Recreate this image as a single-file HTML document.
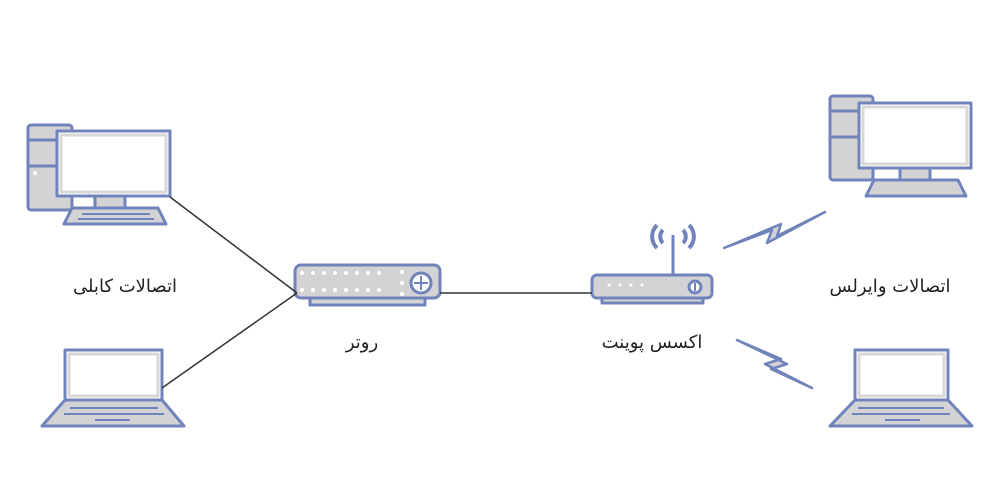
<!DOCTYPE html>
<html><head><meta charset="utf-8"><style>
body{margin:0;background:#fff;width:1000px;height:500px;overflow:hidden}
svg{display:block}
text{font-family:"DejaVu Sans","Liberation Sans",sans-serif;font-size:18px;fill:#222}
</style></head><body>
<svg width="1000" height="500" viewBox="0 0 1000 500">
<g stroke="#7083bb" stroke-width="3" stroke-linejoin="round" fill="#d3d3d6">
<!-- left desktop -->
<rect x="28" y="125" width="44" height="85" rx="3"/>
<line x1="28" y1="140" x2="72" y2="140"/><line x1="28" y1="166" x2="72" y2="166"/>
<rect x="95" y="195" width="30" height="13"/>
<path d="M72 208 H158 L166 224 H64 Z"/>
<rect x="57" y="131" width="113" height="65" fill="#fff"/>
<rect x="61" y="135" width="105" height="57" fill="none" stroke="#d8d8d8" stroke-width="3"/>
<!-- right desktop -->
<rect x="830" y="96" width="43" height="84" rx="3"/>
<line x1="830" y1="111" x2="873" y2="111"/><line x1="830" y1="137" x2="873" y2="137"/>
<rect x="900" y="167" width="30" height="13"/>
<path d="M874 180 H958 L966 196 H866 Z"/>
<rect x="859" y="103" width="112" height="65" fill="#fff"/>
<rect x="863" y="107" width="104" height="57" fill="none" stroke="#d8d8d8" stroke-width="3"/>
<!-- left laptop -->
<rect x="65" y="350" width="97" height="50" fill="#fff"/>
<rect x="69" y="354" width="89" height="42" fill="none" stroke="#d8d8d8" stroke-width="3"/>
<path d="M65 400 H162 L184 426 H42 Z"/>
<!-- right laptop -->
<rect x="855" y="350" width="93" height="50" fill="#fff"/>
<rect x="859" y="354" width="85" height="42" fill="none" stroke="#d8d8d8" stroke-width="3"/>
<path d="M855 400 H948 L972 426 H830 Z"/>
<!-- router -->
<rect x="310" y="297" width="115" height="8"/>
<rect x="295" y="265" width="145" height="33" rx="6"/>
<circle cx="421" cy="283" r="10" fill="#fff"/>
<!-- AP -->
<line x1="673" y1="235" x2="673" y2="276"/>
<rect x="602" y="297" width="101" height="6"/>
<rect x="592" y="275" width="120" height="23" rx="5"/>
<circle cx="695" cy="287" r="6" fill="#fff"/>
<!-- lightning -->
<path d="M724 248 L772 230 L767 243 L825 212 L777 236 L781 224 Z" stroke-width="2.5"/>
<path d="M737 340 L781 359 L765 364 L812 388 L771 369 L787 364 Z" stroke-width="2.5"/>
</g>
<g fill="none" stroke="#7083bb" stroke-width="4">
<path d="M663 230 a9 9 0 0 0 0 13"/><path d="M657 225 a16 16 0 0 0 0 23"/>
<path d="M683 230 a9 9 0 0 1 0 13"/><path d="M689 225 a16 16 0 0 1 0 23"/>
</g>
<g fill="#fff">
<circle cx="35" cy="173" r="2"/>
<circle cx="302" cy="273" r="2"/><circle cx="313" cy="273" r="2"/><circle cx="324" cy="273" r="2"/><circle cx="335" cy="273" r="2"/><circle cx="346" cy="273" r="2"/><circle cx="357" cy="273" r="2"/><circle cx="368" cy="273" r="2"/><circle cx="379" cy="273" r="2"/>
<circle cx="302" cy="290" r="2"/><circle cx="313" cy="290" r="2"/><circle cx="324" cy="290" r="2"/><circle cx="335" cy="290" r="2"/><circle cx="346" cy="290" r="2"/><circle cx="357" cy="290" r="2"/><circle cx="368" cy="290" r="2"/><circle cx="379" cy="290" r="2"/>
<circle cx="402" cy="272" r="2"/><circle cx="402" cy="283" r="2"/><circle cx="402" cy="294" r="2"/>
<circle cx="609" cy="285" r="1.5"/><circle cx="620" cy="285" r="1.5"/><circle cx="631" cy="285" r="1.5"/><circle cx="642" cy="285" r="1.5"/>
</g>
<g stroke="#7083bb" stroke-width="2">
<line x1="82" y1="214" x2="150" y2="214"/><line x1="78" y1="219" x2="154" y2="219"/>
<line x1="70" y1="408" x2="158" y2="408"/><line x1="64" y1="414" x2="164" y2="414"/><line x1="95" y1="420" x2="130" y2="420"/>
<line x1="858" y1="408" x2="944" y2="408"/><line x1="852" y1="414" x2="950" y2="414"/><line x1="885" y1="420" x2="920" y2="420"/>
<line x1="414" y1="283" x2="428" y2="283"/><line x1="421" y1="276" x2="421" y2="290"/>
<line x1="695" y1="283" x2="695" y2="291"/>
</g>
<g stroke="#333" stroke-width="1.5">
<line x1="170" y1="197" x2="297" y2="293"/>
<line x1="162" y1="388" x2="297" y2="293"/>
<line x1="440" y1="293" x2="592" y2="293"/>
</g>
<text x="125" y="292" text-anchor="middle" direction="rtl">اتصالات کابلی</text>
<text x="362" y="348" text-anchor="middle" direction="rtl">روتر</text>
<text x="652" y="348" text-anchor="middle" direction="rtl">اکسس پوینت</text>
<text x="890" y="292" text-anchor="middle" direction="rtl">اتصالات وایرلس</text>
</svg>
</body></html>
